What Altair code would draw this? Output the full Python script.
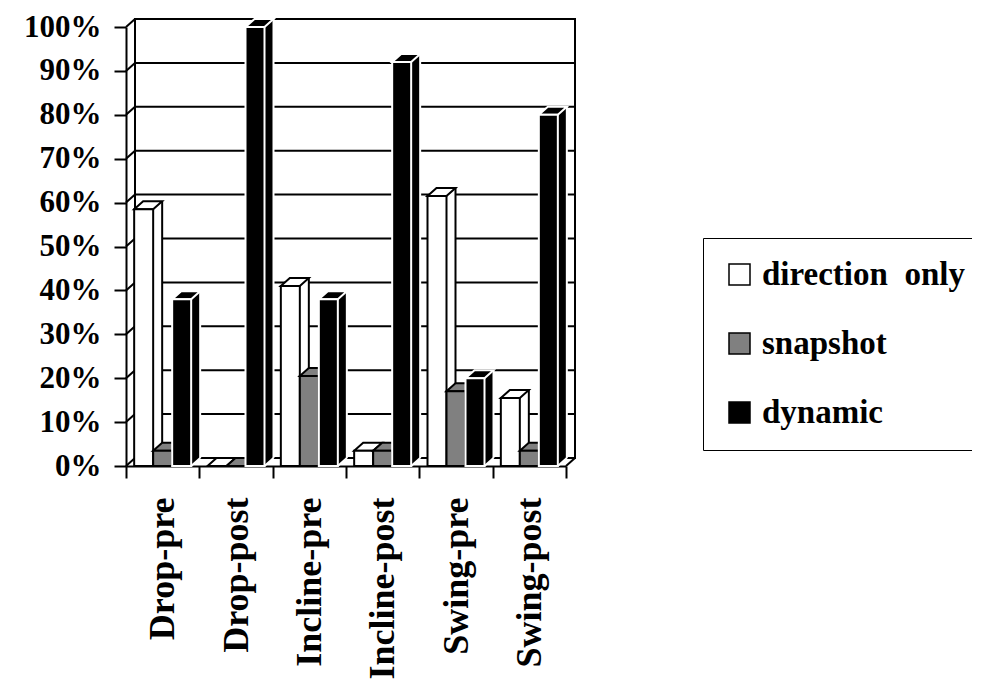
import altair as alt
import pandas as pd

# ---- data ----
categories = ["Drop-pre", "Drop-post", "Incline-pre", "Incline-post", "Swing-pre", "Swing-post"]
series = ["direction\u00a0 only", "snapshot", "dynamic"]
direction_only = [58.5, 0, 41, 3.5, 61.5, 15.5]
snapshot = [3.5, 0, 20.5, 3.5, 17, 3.5]
dynamic = [38, 100, 38, 92, 20, 80]
y_ticks = [0, 10, 20, 30, 40, 50, 60, 70, 80, 90, 100]

fill_colors = ["#ffffff", "#808080", "#000000"]
edge_colors = ["#000000", "#000000", "#ffffff"]

rows = []
for s, vals in zip(series, [direction_only, snapshot, dynamic]):
    for c, v in zip(categories, vals):
        rows.append({"cat": c, "series": s, "val": v, "zero": 0})
df = pd.DataFrame(rows)
grid_df = pd.DataFrame({"g": y_ticks})
wall_df = pd.DataFrame({"top": [y_ticks[-1]], "bottom": [y_ticks[0]]})

W, H = 440, 439
DX, DY = 9, -8          # 3-D depth offset in pixels
BW = 19                 # bar face width in pixels
SHIFTS = [-BW, 0, BW]   # series position within a category band
FONT = "Liberation Serif, Times New Roman, Times, serif"

# custom symbol paths (scaled by sqrt(size)/2 = 20 px)
TOP = "M -0.475 0 L 0.475 0 L 0.925 -0.4 L -0.025 -0.4 Z"
TRI = "M 0.45 0.03 L 0.45 -0.42 L 0.95 -0.42 Z"
SLANT = "M 0.475 0 L 0.925 -0.4"

yscale = alt.Scale(domain=[0, 100])
xscale = alt.Scale(paddingInner=0, paddingOuter=0)
x_axis = alt.Axis(
    title=None, labelAngle=-90, labelAlign="right", labelBaseline="middle",
    labelFont=FONT, labelFontSize=36, labelFontWeight="bold", labelColor="black",
    labelPadding=19, labelLimit=400, tickBand="extent", tickSize=12, tickWidth=2,
    tickColor="black", domainColor="black", domainWidth=2,
)
y_axis = alt.Axis(
    title=None, values=y_ticks, labelExpr="datum.value + '%'", grid=False,
    tickSize=12, tickWidth=2, tickColor="black", domainColor="black", domainWidth=2,
    labelFont=FONT, labelFontSize=31, labelFontWeight="bold", labelColor="black",
    labelPadding=13,
)
x_enc = alt.X("cat:N", sort=categories, scale=xscale, axis=x_axis)
y_enc = alt.Y("val:Q", scale=yscale, axis=y_axis)
y0_enc = alt.Y("zero:Q", scale=yscale, axis=y_axis)
fill_enc = alt.Fill("series:N", sort=series, scale=alt.Scale(domain=series, range=fill_colors), title=None)

# ---- walls ----
back_wall = alt.Chart(wall_df).mark_rect(
    fill="white", stroke="black", strokeWidth=2, yOffset=DY, y2Offset=DY
).encode(x=alt.value(DX), x2=alt.value(W + DX), y=alt.Y("top:Q", scale=yscale, axis=y_axis), y2=alt.Y2("bottom"))

grid = alt.Chart(grid_df).mark_rule(stroke="black", strokeWidth=2, yOffset=DY).encode(
    x=alt.value(DX), x2=alt.value(W + DX), y=alt.Y("g:Q", scale=yscale, axis=y_axis)
)

left_diag = alt.Chart(grid_df).mark_rule(stroke="black", strokeWidth=2, y2Offset=DY).encode(
    x=alt.value(0), x2=alt.value(DX), y=alt.Y("g:Q", scale=yscale, axis=y_axis), y2=alt.Y2("g")
)

floor_diag = alt.Chart(wall_df).mark_rule(stroke="black", strokeWidth=2, y2Offset=DY).encode(
    x=alt.value(W), x2=alt.value(W + DX), y=alt.Y("bottom:Q", scale=yscale, axis=y_axis), y2=alt.Y2("bottom")
)

layers = [back_wall, grid, left_diag, floor_diag]

# ---- 3-D bars, one series after another (later series sit in front) ----
for s, shift, fc, ec in zip(series, SHIFTS, fill_colors, edge_colors):
    b = alt.Chart(df).transform_filter(alt.datum.series == s)
    side = b.mark_bar(width=DX, xOffset=shift + (BW + DX) / 2, yOffset=DY, y2Offset=DY,
                      fill=fc, strokeWidth=0).encode(x=x_enc, y=y_enc, y2=alt.Y2("zero"))
    tri = b.mark_point(shape=TRI, size=1600, filled=True, opacity=1, fill=fc, strokeWidth=0,
                       xOffset=shift).encode(x=x_enc, y=y0_enc)
    side_edge = b.mark_rule(xOffset=shift + BW / 2 + DX, yOffset=DY, y2Offset=DY, stroke=ec,
                            strokeWidth=2).encode(x=x_enc, y=y_enc, y2=alt.Y2("zero"))
    slant = b.mark_point(shape=SLANT, size=1600, filled=False, opacity=1, stroke=ec, strokeWidth=2,
                         xOffset=shift).encode(x=x_enc, y=y0_enc)
    top = b.mark_point(shape=TOP, size=1600, filled=True, opacity=1, fill=fc, stroke=ec,
                       strokeWidth=2, xOffset=shift).encode(x=x_enc, y=y_enc)
    front = b.mark_bar(width=BW, xOffset=shift, stroke=ec, strokeWidth=2).encode(
        x=x_enc, y=y_enc, y2=alt.Y2("zero"), fill=fill_enc
    )
    layers += [side, tri, side_edge, slant, top, front]

chart = alt.layer(*layers).properties(
    width=W, height=H,
    autosize=alt.AutoSizeParams(type="none"),
    padding={"left": 118, "top": 19, "right": 406, "bottom": 215},
).configure_view(stroke="transparent").configure_legend(
    orient="none", legendX=577, legendY=211,
    strokeColor="black", padding=20, rowPadding=35,
    symbolType="square", symbolSize=441, symbolStrokeColor="black", symbolStrokeWidth=1.5,
    labelFont=FONT, labelFontSize=33, labelFontWeight="bold", labelColor="black",
    labelOffset=6, labelLimit=400,
)

chart.save("out.html", embed_options={"renderer": "svg", "actions": False})
